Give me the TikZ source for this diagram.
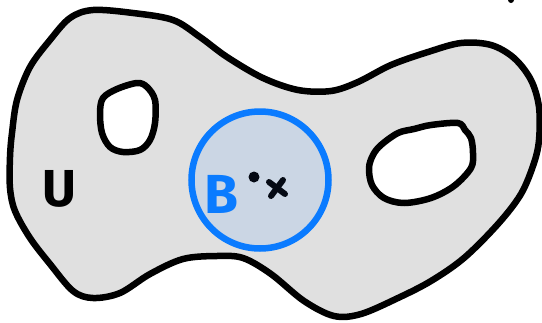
\documentclass[tikz,border=0pt]{standalone}
\usepackage{fontspec}
\usetikzlibrary{calc}
\setmainfont{Fira Sans}
\definecolor{blobgray}{HTML}{E0E0E0}
\definecolor{ballblue}{HTML}{0A7BFF}
\definecolor{ballfill}{HTML}{CBD6E4}
\definecolor{ink}{HTML}{050A14}
\tikzset{
  outline/.style={draw=black, line width=6.5pt, line join=round, line cap=round},
  lbl/.style={inner sep=0pt},
}
\begin{document}
\begin{tikzpicture}[x=1pt,y=-1pt]
\useasboundingbox (0,0) rectangle (542,322);
% main region U
\draw[outline, fill=blobgray] plot[smooth cycle, tension=0.55] coordinates {
 (93,10) (133,13) (173,20) (200,37) (227,57) (263,78) (298,90) (331,91)
 (358,82) (391,65) (428,52) (461,43) (491,45) (514,58) (531,80) (539,107)
 (539,140) (534,163) (521,194) (498,224) (464,258) (431,281) (398,298)
 (361,314) (334,316) (304,301) (271,274) (243,258) (217,256) (183,259)
 (150,274) (120,293) (93,298) (73,291) (50,264) (30,238) (15,211)
 (10,188) (10,157) (12,133) (17,100) (30,67) (50,40) (70,18)};
% left hole
\draw[outline, fill=white] plot[smooth cycle, tension=0.55] coordinates {
 (103,98) (117,89) (137,83) (147,87) (155,100) (155,123) (150,140)
 (140,150) (123,152) (110,147) (102,133) (100,113)};
% right hole
\draw[outline, fill=white] plot[smooth cycle, tension=0.55] coordinates {
 (381,145) (398,133) (414,129) (431,125) (458,123) (465,130) (471,138)
 (473,153) (471,168) (454,186) (431,198) (404,203) (384,198) (372,185)
 (369,168) (373,155)};
% ball B
\node[circle, draw=ballblue, fill=ballfill, line width=6.5pt, minimum size=137pt, inner sep=0pt] (ball) at (260,180) {};
\node[lbl, text=ballblue, font=\bfseries\fontsize{55}{55}\selectfont] (B) at (221,194) {B};
\node[lbl, text=black, font=\bfseries\fontsize{52}{52}\selectfont] (U) at (59,189) {U};
% point and x
\fill[ink] (254,177) circle (5.5pt) coordinate (pt);
\coordinate (xc) at (277,188);
\draw[ink, line width=6pt, line cap=round] ($(xc)+(-8,-6)$) -- ($(xc)+(8,6)$);
\draw[ink, line width=6pt, line cap=round] ($(xc)+(6,-8)$) -- ($(xc)+(-6,8)$);
% stray dot top right
\fill[black] (511,0) circle (3pt) coordinate (stray);
\end{tikzpicture}
\end{document}
